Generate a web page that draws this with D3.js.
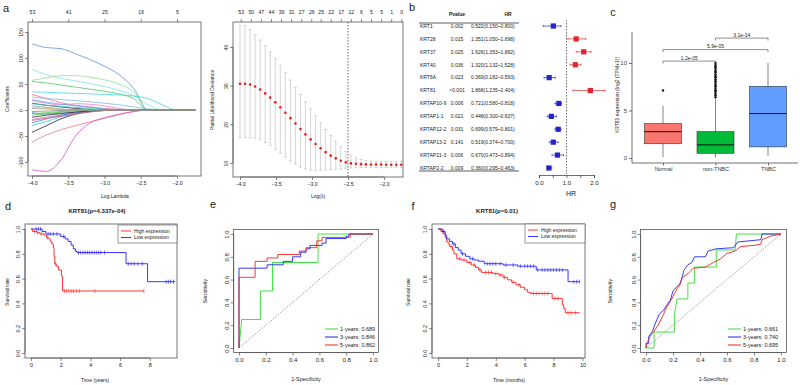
<!DOCTYPE html>
<html><head><meta charset="utf-8">
<script src="https://cdn.jsdelivr.net/npm/d3@7"></script>
<style>body{margin:0;background:#fff} text{font-family:"Liberation Sans",Arial,sans-serif}</style>
</head><body><svg id="c" width="800" height="385"></svg>
<script>
// ---------------- DATA ----------------
// panel a (left): lasso coefficient paths
const lassoLambda = [-4.0,-3.8,-3.6,-3.4,-3.2,-3.0,-2.8,-2.6,-2.4,-2.2,-2.0,-1.75];
const lassoCoefs = [
 [127,120,118,108,97,84,68,42,0,0,0,0],
 [78,68,61,56,51,45,38,28,10,0,0,0],
 [57,62,66,66,63,58,50,35,0,0,0,0],
 [55,52,48,44,40,36,31,22,0,0,0,0],
 [35,34,33,32,31,30,29,27,22,10,0,0],
 [25,22,20,18,16,13,10,6,2,0,0,0],
 [30,22,14,9,6,3,1,0,0,0,0,0],
 [18,13,10,12,11,8,3,0,0,0,0,0],
 [13,9,6,3,1,0,0,0,0,0,0,0],
 [8,5,2,0,0,0,0,0,0,0,0,0],
 [20,15,11,8,5,2,0,0,0,0,0,0],
 [12,9,7,5,3,1,0,0,0,0,0,0],
 [5,3,1,0,0,0,0,0,0,0,0,0],
 [-5,-8,-6,-4,-2,0,0,0,0,0,0,0],
 [-43,-30,-17,-8,-3,0,0,0,0,0,0,0],
 [-30,-22,-13,-6,-2,0,0,0,0,0,0,0],
 [-62,-48,-38,-30,-23,-16,-9,-3,0,0,0,0],
 [-115,-118,-96,-50,-25,-15,-8,-3,0,0,0,0],
 [-18,-14,-10,-6,-3,-1,0,0,0,0,0,0],
 [-25,-17,-10,-5,-2,0,0,0,0,0,0,0],
 [-10,-7,-4,-2,0,0,0,0,0,0,0,0],
 [-14,-10,-7,-4,-2,-1,0,0,0,0,0,0],
 [-7,-5,-3,-1,0,0,0,0,0,0,0,0],
 [-20,-16,-12,-8,-4,-1,0,0,0,0,0,0],
 [3,2,1,0,0,0,0,0,0,0,0,0],
 [-3,-2,-1,0,0,0,0,0,0,0,0,0]
];
const lassoColors = ["#5f8fe0","#7fe3e3","#8fe08f","#4fc86f","#3fd8d8","#7fb8e8","#e8708a","#e080e0",
 "#222222","#999999","#6fa0e8","#3fd0d0","#f0c040","#5080d0","#222244","#30c8c8","#f07890","#d050d0",
 "#c070c0","#4a88e0","#50c050","#333333","#60c860","#e06078","#aaaaaa","#888888"];
const lassoTopAt = [-4.0,-3.5,-3.0,-2.5,-2.0];
const lassoTopLab = ["53","41","25","16","5"];

// panel a (right): cross-validation
const cvLambda = [-4.00,-3.93,-3.86,-3.79,-3.72,-3.65,-3.58,-3.51,-3.44,-3.37,-3.30,-3.23,-3.16,-3.09,-3.02,-2.95,-2.88,-2.81,-2.74,-2.67,-2.60,-2.53,-2.46,-2.39,-2.32,-2.25,-2.18,-2.11,-2.04,-1.97,-1.90,-1.83,-1.76];
const cvMean = [30.5,30.5,30.3,29.8,29.0,28.0,26.9,25.7,24.4,23.0,21.6,20.2,18.8,17.4,16.1,14.9,13.8,12.8,11.9,11.2,10.6,10.2,9.9,9.8,9.7,9.65,9.6,9.6,9.6,9.55,9.55,9.55,9.55];
const cvUp = [45.5,45.5,44.5,43.2,41.8,40.3,38.7,37.0,35.2,33.4,31.5,29.6,27.7,25.8,24.0,22.2,20.4,18.7,17.1,15.6,14.2,13.0,12.0,11.3,10.9,10.6,10.5,10.4,10.4,10.35,10.35,10.35,10.35];
const cvLo = [16.5,16.5,16.5,16.4,16.0,15.3,14.5,13.5,12.5,11.5,10.5,9.7,9.0,8.5,8.2,8.1,8.1,8.2,8.3,8.4,8.5,8.6,8.7,8.75,8.8,8.8,8.8,8.8,8.8,8.8,8.8,8.8,8.8];
const cvTopAt = [-3.99,-3.85,-3.71,-3.57,-3.43,-3.29,-3.15,-3.01,-2.88,-2.74,-2.60,-2.46,-2.32,-2.18,-2.04,-1.90,-1.76];
const cvTopLab = ["53","50","47","44","39","31","27","26","25","22","17","12","6","5","5","1","0"];
const cvBest = -2.5;

// panel b: univariate Cox table
const genes = ["KRT1","KRT28","KRT37","KRT40","KRT6A","KRT81","KRTAP10-9","KRTAP1-1","KRTAP12-2","KRTAP13-2","KRTAP21-3","KRTAP2-2"];
const pvals = ["0.002","0.015","0.025","0.036","0.023","<0.001","0.006","0.021","0.031","0.141","0.006","0.009"];
const hr   = [0.522,1.351,1.626,1.320,0.369,1.868,0.721,0.448,0.699,0.519,0.670,0.360];
const hrLo = [0.150,1.050,1.353,1.132,0.182,1.235,0.580,0.300,0.579,0.374,0.473,0.295];
const hrHi = [0.800,1.698,1.892,1.528,0.593,2.404,0.818,0.637,0.801,0.700,0.894,0.463];
const hrTicks = [0,0.5,1,1.5,2];

// panel c: boxplots
const groups = ["Normal","non-TNBC","TNBC"];
const boxStats = [ // [lowWhisker, q1, median, q3, highWhisker]
 [0.1,1.5,2.77,3.62,5.5],
 [0.1,0.5,1.38,2.77,6.2],
 [0.2,1.17,4.68,7.55,10.0]
];
const groupColors = ["#F8766D","#00BA38","#619CFF"];
const normalOutliers = [7.1];
const nonTnbcOutliers = [6.4,6.6,6.8,7.0,7.1,7.3,7.5,7.6,7.8,8.0,8.1,8.3,8.5,8.6,8.8,9.0,9.1,9.3,9.5,9.6,9.8,10.0];
const compPairs = [["Normal","non-TNBC"],["Normal","TNBC"],["non-TNBC","TNBC"]];
const compLabels = ["1.2e-05","5.9e-05","3.1e-14"];

// panel d: KM (years)
const dHighT = [0,0.1,0.4,0.6,0.9,1.05,1.2,1.3,1.4,1.5,1.55,1.6,1.7,1.85,2.05,2.12,7.6];
const dHighS = [1.0,0.98,0.97,0.96,0.95,0.93,0.92,0.90,0.88,0.85,0.78,0.72,0.70,0.67,0.62,0.50,0.50];
const dLowT = [0,0.75,1.0,2.0,2.3,2.5,2.7,2.85,3.0,3.1,6.4,7.85,9.7];
const dLowS = [1.0,0.98,0.96,0.94,0.92,0.90,0.87,0.84,0.82,0.81,0.72,0.575,0.575];
const dHighCens = [0.25,0.45,0.7,1.1,1.65,2.25,2.4,2.55,2.7,2.85,3.05,3.25,4.3,7.6];
const dLowCens = [0.35,0.5,0.65,1.15,1.3,1.5,1.75,2.2,3.2,3.35,3.5,3.65,3.8,3.95,4.1,4.25,4.4,4.55,4.7,4.95,6.55,6.75,6.95,7.2,7.5,9.1,9.25,9.4,9.6];

// panel f: KM (months)
const fHighT = [0,0.2,0.4,0.5,0.6,0.7,0.8,1.0,1.1,1.3,1.6,2.0,2.3,2.6,2.8,3.0,3.8,4.2,4.5,4.8,5.1,5.4,5.7,6.0,6.2,6.4,7.9,8.6,8.7,8.8,9.8];
const fHighS = [1.0,0.98,0.96,0.93,0.90,0.88,0.86,0.83,0.80,0.76,0.75,0.73,0.71,0.69,0.67,0.65,0.64,0.63,0.61,0.59,0.57,0.55,0.53,0.51,0.49,0.48,0.44,0.39,0.36,0.325,0.325];
const fLowT = [0,0.3,0.5,0.6,0.8,1.0,1.2,1.4,1.6,1.9,2.2,2.5,2.8,3.2,4.5,5.5,6.8,9.0,9.8];
const fLowS = [1.0,0.98,0.95,0.92,0.90,0.88,0.85,0.83,0.80,0.78,0.76,0.75,0.74,0.72,0.71,0.70,0.67,0.575,0.575];
const fHighCens = [0.3,0.9,1.5,1.8,2.2,2.5,2.9,3.3,3.5,3.7,4.0,4.3,4.6,5.2,5.6,6.6,6.8,7.0,7.2,7.4,7.6,8.1,8.3,9.0,9.2,9.5];
const fLowCens = [0.4,1.1,1.7,2.4,3.4,3.6,3.8,4.0,4.3,4.7,5.2,5.7,6.0,6.2,6.4,6.6,6.9,7.2,7.4,7.6,7.8,8.0,8.2,8.4,8.6,9.4,9.6,9.8];
const kmLegend = ["High expression","Low expression"];

// panel e: ROC
const e1x = [0,0.02,0.16,0.16,0.25,0.25,0.59,0.59,1];
const e1y = [0,0.25,0.25,0.5,0.5,0.75,0.75,1,1];
const e3x = [0,0,0.21,0.21,0.33,0.33,0.40,0.40,0.46,0.46,0.50,0.50,0.53,0.53,0.62,0.62,0.65,0.65,0.80,0.80,0.82,0.82,1];
const e3y = [0,0.70,0.70,0.73,0.73,0.76,0.76,0.80,0.80,0.84,0.84,0.87,0.87,0.90,0.90,0.92,0.92,0.96,0.96,0.98,0.98,1.0,1];
const e5x = [0,0,0.12,0.12,0.21,0.21,0.29,0.29,0.45,0.45,0.50,0.50,0.58,0.58,0.62,0.62,0.83,0.83,1];
const e5y = [0,0.62,0.62,0.76,0.76,0.79,0.79,0.82,0.82,0.85,0.85,0.88,0.88,0.94,0.94,0.97,0.97,1.0,1];
const eAUC = ["1-years: 0.689","3-years: 0.846","5-years: 0.862"];

// panel g: ROC
const g1x = [0,0.06,0.06,0.21,0.21,0.23,0.31,0.31,0.36,0.36,0.52,0.52,0.66,0.67,1];
const g1y = [0,0,0.14,0.14,0.29,0.43,0.43,0.57,0.57,0.71,0.71,0.86,0.86,1.0,1];
const g3x = [0,0,0.02,0.02,0.05,0.07,0.10,0.13,0.15,0.18,0.20,0.23,0.25,0.27,0.28,0.31,0.34,0.36,0.44,0.46,0.52,0.65,0.68,0.85,0.86,1];
const g3y = [0,0.04,0.04,0.10,0.15,0.22,0.30,0.33,0.37,0.42,0.50,0.54,0.56,0.63,0.68,0.73,0.75,0.80,0.80,0.85,0.87,0.88,0.93,0.95,1.0,1];
const g5x = [0,0.01,0.03,0.06,0.09,0.12,0.15,0.20,0.23,0.25,0.27,0.31,0.35,0.44,0.50,0.55,0.60,0.66,0.70,0.80,0.85,0.86,0.92,1];
const g5y = [0,0.05,0.10,0.15,0.20,0.27,0.35,0.45,0.52,0.55,0.62,0.65,0.70,0.71,0.75,0.78,0.83,0.85,0.89,0.90,0.91,0.95,0.98,1];
const gAUC = ["1-years: 0.661","3-years: 0.740","5-years: 0.695"];
const rocColors = ["#2fe02f","#2424e8","#f02424"];
const rocTicks = [0,0.2,0.4,0.6,0.8,1.0];

// ---------------- DRAW ----------------
const svg = d3.select("#c");
const BOX = "#555";
function txt(g,x,y,s,o={}){
  const t=g.append("text").attr("x",x).attr("y",y).text(s)
   .attr("font-size",o.size||6).attr("text-anchor",o.anchor||"middle").attr("fill",o.fill||"#222");
  if(o.weight) t.attr("font-weight",o.weight);
  if(o.rotate!=null) t.attr("transform",`rotate(${o.rotate},${x},${y})`);
  return t;
}
function frame(g,x0,y0,x1,y1){
  g.append("rect").attr("x",x0).attr("y",y0).attr("width",x1-x0).attr("height",y1-y0)
   .attr("fill","none").attr("stroke",BOX).attr("stroke-width",0.8);
}
function rBottom(g,scale,ticks,y,fmt,size){
  const ax=g.append("g").attr("transform",`translate(0,${y})`)
   .call(d3.axisBottom(scale).tickValues(ticks).tickFormat(fmt).tickSize(3).tickPadding(2));
  ax.select(".domain").attr("d",`M${scale(ticks[0])},0H${scale(ticks[ticks.length-1])}`).attr("stroke",BOX).attr("stroke-width",0.7);
  ax.selectAll(".tick line").attr("stroke",BOX).attr("stroke-width",0.7);
  ax.selectAll("text").attr("font-size",size||5.5).attr("fill","#222").attr("font-family",null);
  return ax;
}
function rLeft(g,scale,ticks,x,fmt,size){
  const ax=g.append("g").attr("transform",`translate(${x},0)`)
   .call(d3.axisLeft(scale).tickValues(ticks).tickFormat(fmt).tickSize(3).tickPadding(2));
  ax.select(".domain").attr("d",`M0,${scale(ticks[0])}V${scale(ticks[ticks.length-1])}`).attr("stroke",BOX).attr("stroke-width",0.7);
  ax.selectAll(".tick line").attr("stroke",BOX).attr("stroke-width",0.7);
  ax.selectAll("text").attr("font-size",size||5.5).attr("fill","#222").attr("font-family",null)
    .attr("transform","rotate(-90)").attr("text-anchor","middle").attr("x",0).attr("y",-5).attr("dy",0);
  return ax;
}
function rTop(g,scale,ticks,labels,y,size){
  const ax=g.append("g").attr("transform",`translate(0,${y})`)
   .call(d3.axisTop(scale).tickValues(ticks).tickFormat((d,i)=>labels[i]).tickSize(3).tickPadding(5));
  ax.select(".domain").remove();
  ax.selectAll(".tick line").attr("stroke",BOX).attr("stroke-width",0.7);
  ax.selectAll("text").attr("font-size",size||5.5).attr("fill","#222").attr("font-family",null);
}
const f1 = d3.format(".1f");

// ---- Panel a left ----
{
  const g=svg.append("g");
  txt(g,6,12,"a",{size:11,anchor:"middle"});
  const x=d3.scaleLinear().domain([-4,-2]).range([32,177]);
  const y=d3.scaleLinear().domain([-100,150]).range([162,32]);
  const line=d3.line().x((d,i)=>x(lassoLambda[i])).y(d=>y(d)).curve(d3.curveMonotoneX);
  lassoCoefs.forEach((c,i)=>g.append("path").attr("d",line(c)).attr("fill","none")
     .attr("stroke",lassoColors[i%lassoColors.length]).attr("stroke-width",0.8));
  frame(g,28,22,201,176);
  rBottom(g,x,[-4,-3.5,-3,-2.5,-2],176,f1,5.2);
  rLeft(g,y,[-100,-50,0,50,100,150],28,d3.format("d"),5.2);
  rTop(g,x,lassoTopAt,lassoTopLab,22,5.2);
  txt(g,115,198,"Log Lambda",{size:5});
  txt(g,9,99,"Coefficients",{size:5,rotate:-90});
}
// ---- Panel a right ----
{
  const g=svg.append("g");
  const x=d3.scaleLinear().domain([-4,-2]).range([240,384]);
  const y=d3.scaleLinear().domain([10,40]).range([163,47]);
  cvLambda.forEach((l,i)=>{
    const xx=x(l);
    g.append("line").attr("x1",xx).attr("x2",xx).attr("y1",y(cvLo[i])).attr("y2",y(cvUp[i])).attr("stroke","#b8b8b8").attr("stroke-width",0.6);
    [cvLo[i],cvUp[i]].forEach(v=>g.append("line").attr("x1",xx-1.5).attr("x2",xx+1.5).attr("y1",y(v)).attr("y2",y(v)).attr("stroke","#b8b8b8").attr("stroke-width",0.6));
  });
  g.append("line").attr("x1",x(cvBest)).attr("x2",x(cvBest)).attr("y1",22).attr("y2",177)
   .attr("stroke","#444").attr("stroke-width",0.8).attr("stroke-dasharray","1.5,1.5");
  cvLambda.forEach((l,i)=>g.append("circle").attr("cx",x(l)).attr("cy",y(cvMean[i])).attr("r",1.3).attr("fill","#e8201c"));
  frame(g,233,22,403,177);
  rBottom(g,x,[-4,-3.5,-3,-2.5,-2],177,f1,5.2);
  rLeft(g,y,[10,20,30,40],233,d3.format("d"),5.2);
  rTop(g,x,cvTopAt,cvTopLab,22,5.2);
  txt(g,318,198,"Log(λ)",{size:5});
  txt(g,214,100,"Partial Likelihood Deviance",{size:5,rotate:-90});
}
// ---- Panel b ----
{
  const g=svg.append("g");
  txt(g,412,11,"b",{size:11});
  const ry=d3.scalePoint().domain(genes).range([26,168]);
  txt(g,457,16,"Pvalue",{size:5,weight:"bold"});
  txt(g,508,16,"HR",{size:5,weight:"bold"});
  g.append("line").attr("x1",419).attr("x2",519).attr("y1",23).attr("y2",23).attr("stroke","#333").attr("stroke-width",0.8);
  g.append("line").attr("x1",419).attr("x2",519).attr("y1",171).attr("y2",171).attr("stroke","#333").attr("stroke-width",0.8);
  genes.forEach((gn,i)=>{
    const yy=ry(gn)+1.8;
    txt(g,420,yy,gn,{size:5,anchor:"start"});
    txt(g,457,yy,pvals[i],{size:5});
    txt(g,471,yy,`${hr[i].toFixed(3)}(${hrLo[i].toFixed(3)}~${hrHi[i].toFixed(3)})`,{size:5,anchor:"start"});
  });
  const x=d3.scaleLinear().domain([0,2]).range([539,594]);
  g.append("line").attr("x1",x(1)).attr("x2",x(1)).attr("y1",20).attr("y2",174)
   .attr("stroke","#333").attr("stroke-width",0.7).attr("stroke-dasharray","1.5,1.5");
  genes.forEach((gn,i)=>{
    const yy=ry(gn), col=hr[i]>1?"#e0262b":"#2424c8";
    g.append("line").attr("x1",x(hrLo[i])).attr("x2",x(hrHi[i])).attr("y1",yy).attr("y2",yy).attr("stroke",col).attr("stroke-width",0.7);
    [hrLo[i],hrHi[i]].forEach(v=>g.append("line").attr("x1",x(v)).attr("x2",x(v)).attr("y1",yy-1.2).attr("y2",yy+1.2).attr("stroke",col).attr("stroke-width",0.6));
    g.append("rect").attr("x",x(hr[i])-2.6).attr("y",yy-2.6).attr("width",5.2).attr("height",5.2).attr("fill",col);
  });
  const ax=g.append("g").attr("transform","translate(0,175)")
    .call(d3.axisBottom(x).tickValues(hrTicks).tickFormat((d,i)=>i%2===0?f1(d):"").tickSize(3).tickPadding(3));
  ax.selectAll("line,path").attr("stroke","#333").attr("stroke-width",0.7);
  ax.selectAll("text").attr("font-size",6).attr("fill","#222").attr("font-family",null);
  txt(g,571,196,"HR",{size:7});
}
// ---- Panel c ----
{
  const g=svg.append("g");
  txt(g,613,16,"c",{size:11});
  const x=d3.scalePoint().domain(groups).range([663,768]);
  const y=d3.scaleLinear().domain([0,10]).range([158,63]);
  const bw=37;
  g.append("line").attr("x1",632).attr("x2",632).attr("y1",32).attr("y2",163).attr("stroke","#333").attr("stroke-width",0.7);
  g.append("line").attr("x1",632).attr("x2",798).attr("y1",163).attr("y2",163).attr("stroke","#333").attr("stroke-width",0.7);
  const ya=g.append("g").attr("transform","translate(632,0)").call(d3.axisLeft(y).tickValues([0,5,10]).tickSize(3).tickPadding(2));
  ya.select(".domain").remove();
  ya.selectAll("line").attr("stroke","#333").attr("stroke-width",0.7);
  ya.selectAll("text").attr("font-size",6).attr("fill","#444").attr("font-family",null);
  const xa=g.append("g").attr("transform","translate(0,163)").call(d3.axisBottom(x).tickSize(2.5).tickPadding(2));
  xa.select(".domain").remove();
  xa.selectAll("line").attr("stroke","#333").attr("stroke-width",0.7);
  xa.selectAll("text").attr("font-size",5.5).attr("fill","#333").attr("font-family",null);
  groups.forEach((gr,i)=>{
    const s=boxStats[i], cx=x(gr);
    g.append("line").attr("x1",cx).attr("x2",cx).attr("y1",y(s[0])).attr("y2",y(s[4])).attr("stroke","#333").attr("stroke-width",0.6);
    g.append("rect").attr("x",cx-bw/2).attr("y",y(s[3])).attr("width",bw).attr("height",y(s[1])-y(s[3]))
      .attr("fill",groupColors[i]).attr("stroke","#333").attr("stroke-width",0.6);
    g.append("line").attr("x1",cx-bw/2).attr("x2",cx+bw/2).attr("y1",y(s[2])).attr("y2",y(s[2])).attr("stroke","#111").attr("stroke-width",1);
  });
  normalOutliers.forEach(v=>g.append("circle").attr("cx",x("Normal")).attr("cy",y(v)).attr("r",1.2).attr("fill","#111"));
  nonTnbcOutliers.forEach(v=>g.append("circle").attr("cx",x("non-TNBC")).attr("cy",y(v)).attr("r",1.2).attr("fill","#111"));
  compPairs.forEach((p,i)=>{
    const yy=y(10.2)-i*11.5, x0=x(p[0]), x1=x(p[1]);
    g.append("path").attr("d",`M${x0},${yy+2.5}V${yy}H${x1}V${yy+2.5}`).attr("fill","none").attr("stroke","#444").attr("stroke-width",0.6);
    txt(g,(x0+x1)/2,yy-1.5,compLabels[i],{size:5});
  });
  txt(g,619,95,"KRT81 expression (log2 (TPM+1))",{size:5,rotate:-90});
}
// ---- KM panels ----
function km(opts){
  const g=svg.append("g");
  txt(g,opts.lx,opts.ly,opts.letter,{size:11});
  const x=d3.scaleLinear().domain([0,opts.tmax]).range([opts.x0,opts.x1]);
  const y=d3.scaleLinear().domain([0,1]).range([353,229]);
  const line=d3.line().x(d=>x(d[0])).y(d=>y(d[1])).curve(d3.curveStepAfter);
  const sets=[[opts.hT,opts.hS,opts.hC,"#ff2020"],[opts.lT,opts.lS,opts.lC,"#1f1fff"]];
  sets.forEach(([T,S,C,col])=>{
    g.append("path").attr("d",line(T.map((t,i)=>[t,S[i]]))).attr("fill","none").attr("stroke",col).attr("stroke-width",0.9);
    C.forEach(c=>{
      const idx=d3.bisectRight(T,c)-1, s=S[Math.max(0,idx)];
      g.append("line").attr("x1",x(c)).attr("x2",x(c)).attr("y1",y(s)-2).attr("y2",y(s)+2).attr("stroke",col).attr("stroke-width",0.6);
    });
  });
  frame(g,opts.bx0,224,opts.bx1,358);
  rBottom(g,x,opts.ticks,358,d3.format("d"),5.5);
  rLeft(g,y,[0,0.2,0.4,0.6,0.8,1.0],opts.bx0,f1,5.5);
  txt(g,opts.tx,213,opts.title,{size:6,weight:"bold"});
  txt(g,opts.xlx,382,opts.xlab,{size:5});
  txt(g,opts.ylx,292,"Survival rate",{size:5,rotate:-90});
  const lg=opts.leg;
  g.append("rect").attr("x",lg[0]).attr("y",lg[1]).attr("width",lg[2]-lg[0]).attr("height",lg[3]-lg[1]).attr("fill","#fff").attr("stroke","#555").attr("stroke-width",0.6);
  kmLegend.forEach((s,i)=>{
    const yy=lg[1]+6+i*6.5, col=i===0?"#ff2020":"#1f1fff";
    g.append("line").attr("x1",lg[0]+3).attr("x2",lg[0]+13).attr("y1",yy).attr("y2",yy).attr("stroke",col).attr("stroke-width",0.9);
    txt(g,lg[0]+16,yy+1.8,s,{size:5,anchor:"start"});
  });
}
km({letter:"d",lx:8,ly:210,tmax:8,x0:31,x1:149.8,bx0:25,bx1:177,hT:dHighT,hS:dHighS,hC:dHighCens,lT:dLowT,lS:dLowS,lC:dLowCens,
    ticks:[0,2,4,6,8],title:"KRT81(p=4.337e-04)",tx:97,xlab:"Time (years)",xlx:95,ylx:9,leg:[118,225,177,243]});
km({letter:"f",lx:413,ly:210,tmax:10,x0:438,x1:582.5,bx0:432,bx1:585,hT:fHighT,hS:fHighS,hC:fHighCens,lT:fLowT,lS:fLowS,lC:fLowCens,
    ticks:[0,2,4,6,8,10],title:"KRT81(p=0.01)",tx:497,xlab:"Time (months)",xlx:509,ylx:410,leg:[525,224,585,243]});

// ---- ROC panels ----
function roc(opts){
  const g=svg.append("g");
  txt(g,opts.lx,208,opts.letter,{size:11});
  const x=d3.scaleLinear().domain([0,1]).range([opts.x0,opts.x1]);
  const y=d3.scaleLinear().domain([0,1]).range([348,234]);
  g.append("line").attr("x1",x(0)).attr("x2",x(1)).attr("y1",y(0)).attr("y2",y(1)).attr("stroke","#555").attr("stroke-width",0.6).attr("stroke-dasharray","1.5,1.5");
  const line=d3.line().x(d=>x(d[0])).y(d=>y(d[1]));
  opts.curves.forEach(([X,Y],i)=>g.append("path").attr("d",line(X.map((v,j)=>[v,Y[j]]))).attr("fill","none").attr("stroke",rocColors[i]).attr("stroke-width",0.9));
  frame(g,x(-0.04),y(1.04),x(1.04),y(-0.04));
  rBottom(g,x,rocTicks,y(-0.04),f1,6);
  rLeft(g,y,rocTicks,x(-0.04),f1,6);
  txt(g,(x(0)+x(1))/2,381,"1-Specificity",{size:5.5});
  txt(g,opts.ylx,291,"Sensitivity",{size:5.5,rotate:-90});
  opts.auc.forEach((s,i)=>{
    const yy=329+i*8;
    g.append("line").attr("x1",opts.legx).attr("x2",opts.legx+13).attr("y1",yy).attr("y2",yy).attr("stroke",rocColors[i]).attr("stroke-width",1);
    txt(g,opts.legx+15,yy+2,s,{size:5.5,anchor:"start"});
  });
}
roc({letter:"e",lx:213,x0:239,x1:373,ylx:207,legx:325,auc:eAUC,curves:[[e1x,e1y],[e3x,e3y],[e5x,e5y]]});
roc({letter:"g",lx:613,x0:646,x1:781,ylx:612,legx:728,auc:gAUC,curves:[[g1x,g1y],[g3x,g3y],[g5x,g5y]]});
</script></body></html>
